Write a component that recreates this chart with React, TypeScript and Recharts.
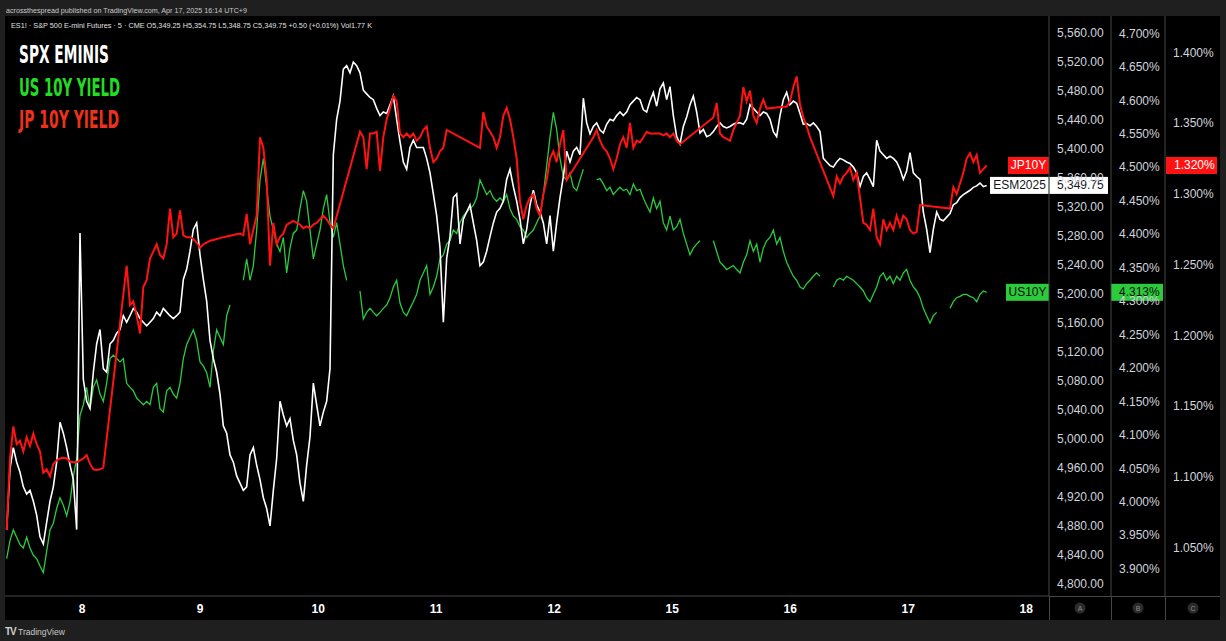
import { LineChart, Line, XAxis, YAxis, ReferenceLine } from 'recharts'

// one sample every 1/35.4 of a session, session 0 = Apr 8 (weekend removed)
const FIRST = -0.6966
const STEP = 1 / 35.4

const dayLabels = ['8', '9', '10', '11', '12', '15', '16', '17', '18']
const spxTicks = [4800, 4840, 4880, 4920, 4960, 5000, 5040, 5080, 5120, 5160, 5200, 5240, 5280, 5320, 5360, 5400, 5440, 5480, 5520, 5560]
const usTicks = [3.9, 3.95, 4.0, 4.05, 4.1, 4.15, 4.2, 4.25, 4.3, 4.35, 4.4, 4.45, 4.5, 4.55, 4.6, 4.65, 4.7]
const jpTicks = [1.05, 1.1, 1.15, 1.2, 1.25, 1.3, 1.35, 1.4]

// ES1! 5 min closes
const spx = [
  null, null,
  4875, 4959, 4988, 4968, 4954, 4934, 4924, 4929, 4914, 4895,
  4865, 4855, 4885, 4914, 4934, 4968, 5023, 5008, 4988, 4964,
  4944, 4875, 5284, 5082, 5052, 5042, 5092, 5131, 5151, 5097,
  5092, 5131, 5136, 5146, 5151, 5170, 5161, 5170, 5180, 5175,
  5166, 5161, 5156, 5161, 5166, 5175, 5170, 5180, 5175, 5170,
  5166, 5170, 5175, 5220, 5234, 5259, 5289, 5298, 5254, 5220,
  5190, 5136, 5111, 5092, 5062, 5018, 5008, 4978, 4968, 4949,
  4939, 4929, 4934, 4978, 4988, 4964, 4944, 4919, 4904, 4880,
  4929, 4973, 5052, 5033, 5018, 5028, 4998, 4978, 4939, 4914,
  4964, 5003, 5077, 5047, 5018, 5037, 5052, 5097, 5392, 5441,
  5466, 5510, 5515, 5505, 5520, 5515, 5505, 5481, 5476, 5471,
  5468, 5456, 5446, 5451, 5449, 5461, 5473, 5441, 5410, 5382,
  5372, 5402, 5412, 5402, 5402, 5402, 5387, 5367, 5338, 5308,
  5264, 5161, 5249, 5279, 5333, 5338, 5269, 5303, 5313, 5323,
  5298, 5274, 5239, 5244, 5259, 5279, 5298, 5313, 5318, 5328,
  5358, 5372, 5348, 5328, 5303, 5269, 5289, 5323, 5343, 5323,
  5313, 5298, 5269, 5308, 5259, 5298, 5333, 5362, 5397, 5382,
  5397, 5402, 5392, 5470, 5436, 5421, 5431, 5436, 5426, 5422,
  5434, 5441, 5439, 5446, 5451, 5446, 5451, 5461, 5466, 5471,
  5468, 5454, 5451, 5466, 5478, 5459, 5483, 5491, 5468, 5486,
  5446, 5417, 5407, 5431, 5444, 5461, 5473, 5451, 5422, 5427,
  5417, 5419, 5424, 5431, 5436, 5431, 5429, 5431, 5434, 5436,
  5436, 5434, 5441, 5461, 5456, 5451, 5446, 5451, 5449, 5441,
  5424, 5417, 5446, 5468, 5478, 5461, 5466, 5463, 5449, 5434,
  5435, 5432, 5436, 5431, 5424, 5387, 5382, 5377, 5375, 5382,
  5387, 5385, 5382, 5380, 5375, 5367, 5348, 5362, 5367, 5358,
  5348, 5412, 5397, 5392, 5387, 5390, 5387, 5382, 5372, 5358,
  5370, 5395, 5367, 5362, 5358, 5313, 5289, 5257, 5289, 5313,
  5303, 5301, 5306, 5311, 5323, 5326, 5333, 5337, 5340, 5343,
  5347, 5349, 5353, 5348, 5349.75,
]

// TVC:US10Y
const us10y = [
  null, null,
  3.915, 3.942, 3.958, 3.947, 3.936, 3.931, 3.947, 3.931, 3.920, 3.915,
  3.904, 3.894, 3.926, 3.958, 3.968, 3.990, 4.006, 3.995, 3.979, 4.000,
  4.038, 4.065, 4.129, 4.145, 4.171, 4.139, 4.171, 4.182, 4.161, 4.150,
  4.177, 4.214, 4.219, 4.214, 4.209, 4.214, 4.177, 4.171, 4.166, 4.155,
  4.150, 4.145, 4.150, 4.145, 4.171, 4.177, 4.139, 4.134, 4.166, 4.171,
  4.161, 4.155, 4.177, 4.214, 4.235, 4.246, 4.257, 4.241, 4.209, 4.203,
  4.193, 4.171, 4.225, 4.257, 4.246, 4.235, 4.278, 4.294, null, null,
  null, 4.331, 4.363, 4.331, 4.353, 4.406, 4.481, 4.513, 4.470, 4.427,
  4.406, 4.385, 4.374, 4.395, 4.342, 4.379, 4.401, 4.406, 4.438, 4.465,
  4.449, 4.406, 4.363, 4.385, 4.406, 4.438, 4.459, 4.417, 4.395, 4.417,
  4.385, 4.353, 4.331, null, null, null, 4.315, 4.273, 4.283, 4.289,
  4.283, 4.278, 4.283, 4.289, 4.294, 4.305, 4.321, 4.331, 4.297, 4.283,
  4.278, 4.289, 4.299, 4.310, 4.331, 4.342, 4.353, 4.310, 4.321, 4.337,
  4.363, 4.369, 4.385, 4.390, 4.406, 4.401, 4.417, 4.427, 4.433, 4.438,
  4.443, 4.454, 4.481, 4.470, 4.459, 4.465, 4.454, 4.449, 4.454, 4.449,
  4.459, 4.438, 4.427, 4.422, 4.411, 4.406, 4.395, 4.401, 4.406, 4.417,
  4.427, 4.459, 4.502, 4.545, 4.582, 4.556, 4.513, 4.486, 4.481, 4.491,
  4.470, 4.465, 4.481, 4.497, null, null, null, 4.481, 4.483, 4.475,
  4.465, 4.470, 4.459, 4.465, 4.470, 4.465, 4.467, 4.459, 4.475, 4.465,
  4.467, 4.454, 4.443, 4.433, 4.454, 4.438, 4.449, 4.417, 4.406, 4.427,
  4.406, 4.411, 4.422, 4.401, 4.385, 4.369, 4.379, 4.385, 4.390, null,
  null, null, 4.390, 4.374, 4.358, 4.353, 4.347, 4.350, 4.353, 4.347,
  4.342, 4.358, 4.369, 4.390, 4.374, 4.385, 4.358, 4.379, 4.390, 4.395,
  4.406, 4.385, 4.395, 4.374, 4.358, 4.347, 4.337, 4.331, 4.321, 4.318,
  4.326, 4.331, 4.337, 4.342, 4.337, null, null, null, 4.321, 4.331,
  4.334, 4.331, 4.337, 4.334, 4.331, 4.326, 4.321, 4.315, 4.305, 4.299,
  4.310, 4.321, 4.337, 4.342, 4.331, 4.337, 4.326, 4.337, 4.331, 4.342,
  4.347, 4.331, 4.321, 4.315, 4.305, 4.289, 4.278, 4.267, 4.278, 4.283,
  null, null, null, 4.289, 4.299, 4.305, 4.307, 4.310, 4.310, 4.307,
  4.305, 4.299, 4.310, 4.315, 4.313,
]

// TVC:JP10Y (gaps are bridged by a straight line)
const jp10y = [
  null, null,
  1.0625, 1.1130, 1.1357, 1.1231, 1.1256, 1.1180, 1.1281, 1.1218, 1.1306, 1.1231,
  1.1180, 1.1029, 1.1054, 1.1004, 1.1092, 1.1117, 1.1130, 1.1135, 1.1130, 1.1109,
  1.1104, 1.1104, 1.1117, 1.1130, 1.1155, 1.1092, 1.1054, 1.1049, 1.1054, 1.1066,
  null, null, null, null, null, null, 1.2492, 1.2214, 1.2240, 1.2139,
  1.2013, 1.2341, 1.2391, 1.2543, 1.2593, 1.2644, 1.2568, 1.2543, 1.2644, 1.2896,
  1.2694, 1.2719, 1.2883, 1.2707, 1.2694, 1.2694, 1.2681, 1.2656, 1.2618, 1.2644,
  1.2656, 1.2669, 1.2674, 1.2681, 1.2687, 1.2694, 1.2699, 1.2704, 1.2709, 1.2714,
  1.2719, 1.2707, 1.2858, 1.2644, 1.2744, 1.2845, 1.3400, 1.3325, 1.3098, 1.2492,
  1.2795, 1.2644, 1.2694, 1.2719, 1.2782, 1.2795, 1.2808, 1.2795, 1.2782, 1.2757,
  1.2770, 1.2757, 1.2782, 1.2795, 1.2820, 1.2845, 1.2820, 1.2782, 1.2757, null,
  null, null, null, null, null, null, 1.3438, 1.3400, 1.3174, 1.3426,
  1.3426, 1.3438, 1.3161, 1.3400, 1.3527, 1.3602, 1.3691, 1.3653, 1.3426, 1.3400,
  1.3426, 1.3400, 1.3426, 1.3375, 1.3400, 1.3451, 1.3476, 1.3325, 1.3224, 1.3249,
  1.3300, 1.3325, 1.3451, null, null, null, null, null, null, null,
  null, null, 1.3325, 1.3577, 1.3476, 1.3438, 1.3400, 1.3325, 1.3400, 1.3552,
  1.3607, 1.3527, 1.3400, 1.3249, 1.2946, 1.2820, 1.2921, 1.2972, 1.2997, 1.2896,
  1.2845, 1.2997, 1.3098, 1.3249, 1.3300, 1.3224, 1.3350, 1.3451, 1.3098, null,
  null, null, null, null, null, null, 1.3400, 1.3451, 1.3375, 1.3325,
  1.3300, 1.3249, 1.3174, 1.3249, 1.3350, 1.3400, 1.3325, 1.3501, 1.3325, 1.3375,
  1.3363, 1.3400, 1.3438, 1.3426, 1.3426, 1.3426, 1.3426, 1.3413, 1.3426, 1.3400,
  1.3426, 1.3375, 1.3350, null, null, null, null, null, null, null,
  null, null, 1.3539, 1.3640, 1.3426, 1.3400, 1.3388, 1.3375, 1.3451, 1.3501,
  1.3552, 1.3754, 1.3653, 1.3729, 1.3552, 1.3501, 1.3602, 1.3666, 1.3602, null,
  null, null, null, 1.3615, 1.3615, 1.3653, 1.3754, 1.3829, 1.3630, 1.3540,
  1.3476, 1.3400, null, null, null, null, null, null, 1.2984, 1.3123,
  1.3073, 1.3123, 1.3148, 1.3186, 1.3098, 1.3148, 1.2972, 1.2795, 1.2782, 1.2744,
  1.2896, 1.2694, 1.2644, 1.2820, 1.2744, 1.2795, 1.2744, 1.2845, 1.2770, 1.2845,
  1.2820, 1.2744, 1.2719, 1.2732, 1.2921, null, null, null, null, null,
  null, null, null, 1.2896, 1.3047, 1.2997, 1.3073, 1.3148, 1.3249, 1.3287,
  1.3224, 1.3274, 1.3148, 1.3174, 1.320,
]

const data = spx.map((v, i) => ({ t: FIRST + i * STEP, spx: v, us: us10y[i], jp: jp10y[i] }))

const lastSpx = spx[spx.length - 1] as number
const lastUs = us10y[us10y.length - 1] as number
const lastJp = jp10y[jp10y.length - 1] as number

const FONT = "'Liberation Sans', Arial, Helvetica, sans-serif"
const NARROW = "'Liberation Sans Narrow', 'DejaVu Sans Condensed', 'Liberation Sans', sans-serif"
const FRAME = '#474747'
const AXIS_TEXT = '#d1d4dc'
const GREEN = '#2ccb3c'
const RED = '#ff1212'

const fmtSpx = (v: number) => v.toLocaleString('en-US', { minimumFractionDigits: 2, maximumFractionDigits: 2 })
const fmtPct = (v: number) => v.toFixed(3) + '%'

function PriceTag(props: any) {
  const { viewBox, name, value, bg, fg, nameWidth, valueOffset, valueWidth, divider } = props
  if (!viewBox) return null
  const right = viewBox.x + viewBox.width
  const y = viewBox.y
  const h = 17
  return (
    <g>
      <rect x={right - nameWidth} y={y - h / 2} width={nameWidth} height={h} fill={bg} />
      <text x={right - nameWidth / 2} y={y + 4} textAnchor="middle" fill={fg} fontSize={12} fontFamily={FONT}>
        {name}
      </text>
      <rect x={right + valueOffset} y={y - h / 2} width={valueWidth} height={h} fill={bg} />
      <text x={right + valueOffset + 8} y={y + 4} fill={fg} fontSize={12} fontFamily={FONT}>
        {value}
      </text>
      {divider && <line x1={right} x2={right} y1={y - h / 2} y2={y + h / 2} stroke="#9a9a9a" />}
    </g>
  )
}

export default function App() {
  const axisTick = { fill: AXIS_TEXT, fontSize: 12, fontFamily: FONT }
  return (
    <div style={{ position: 'absolute', left: 0, top: 0, width: 1226, height: 641, background: '#1f1f1f', overflow: 'hidden' }}>
      <div style={{ position: 'absolute', left: 5, top: 16, width: 1215, height: 604, background: '#000' }} />
      <div style={{ position: 'absolute', left: 0, top: 0 }}>
        <LineChart width={1226} height={641} data={data} margin={{ top: 16, right: 6, bottom: 21, left: 5 }}>
          <XAxis
            dataKey="t"
            type="number"
            domain={[-0.6542, 8.1932]}
            allowDataOverflow
            ticks={dayLabels.map((_, i) => i)}
            tickFormatter={(v: number) => dayLabels[v]}
            interval={0}
            height={24}
            tickLine={false}
            axisLine={{ stroke: FRAME }}
            tick={{ fill: '#ffffff', fontSize: 12, fontWeight: 700, fontFamily: FONT }}
          />
          <YAxis
            yAxisId="A"
            orientation="right"
            width={62}
            domain={[4783.4, 5583.4]}
            allowDataOverflow
            ticks={spxTicks}
            interval={0}
            tickFormatter={fmtSpx}
            tickLine={false}
            axisLine={{ stroke: FRAME }}
            tick={axisTick}
          />
          <YAxis
            yAxisId="B"
            orientation="right"
            width={54}
            domain={[3.8592, 4.7259]}
            allowDataOverflow
            ticks={usTicks}
            interval={0}
            tickFormatter={fmtPct}
            tickLine={false}
            axisLine={{ stroke: FRAME }}
            tick={axisTick}
          />
          <YAxis
            yAxisId="C"
            orientation="right"
            width={55}
            domain={[1.0159, 1.4256]}
            allowDataOverflow
            ticks={jpTicks}
            interval={0}
            tickFormatter={fmtPct}
            tickLine={false}
            axisLine={{ stroke: FRAME }}
            tick={axisTick}
          />
          <Line yAxisId="B" dataKey="us" stroke={GREEN} strokeWidth={1.3} dot={false} isAnimationActive={false} />
          <Line yAxisId="A" dataKey="spx" stroke="#ffffff" strokeWidth={1.6} dot={false} isAnimationActive={false} />
          <Line yAxisId="C" dataKey="jp" stroke={RED} strokeWidth={2} dot={false} connectNulls isAnimationActive={false} />
          <ReferenceLine
            yAxisId="C"
            y={lastJp}
            stroke="none"
            label={<PriceTag name="JP10Y" value={fmtPct(lastJp)} bg={RED} fg="#ffffff" nameWidth={41} valueOffset={117} valueWidth={51} />}
          />
          <ReferenceLine
            yAxisId="A"
            y={lastSpx}
            stroke="none"
            label={<PriceTag name="ESM2025" value={fmtSpx(lastSpx)} bg="#ffffff" fg="#131722" nameWidth={59} valueOffset={0} valueWidth={59} divider />}
          />
          <ReferenceLine
            yAxisId="B"
            y={lastUs}
            stroke="none"
            label={<PriceTag name="US10Y" value={fmtPct(lastUs)} bg={GREEN} fg="#0b0b0b" nameWidth={43} valueOffset={62} valueWidth={52} />}
          />
        </LineChart>
      </div>
      <svg width={1226} height={641} style={{ position: 'absolute', left: 0, top: 0, pointerEvents: 'none' }}>
        <text x={6} y={13} fill="#c9c9c9" fontSize={8} fontFamily={FONT} textLength={241} lengthAdjust="spacingAndGlyphs">
          acrossthespread published on TradingView.com, Apr 17, 2025 16:14 UTC+9
        </text>
        <text x={11} y={28} fill="#e0e0e0" fontSize={8} fontFamily={FONT} textLength={361} lengthAdjust="spacingAndGlyphs">
          ES1! · S&amp;P 500 E-mini Futures · 5 · CME  O5,349.25  H5,354.75  L5,348.75  C5,349.75  +0.50 (+0.01%)  Vol1.77 K
        </text>
        <text x={19} y={62.5} fill="#ffffff" fontSize={24} fontWeight={700} fontFamily={NARROW} textLength={90} lengthAdjust="spacingAndGlyphs">
          SPX EMINIS
        </text>
        <text x={19} y={95.5} fill="#22dd22" fontSize={24} fontWeight={700} fontFamily={NARROW} textLength={101} lengthAdjust="spacingAndGlyphs">
          US 10Y YIELD
        </text>
        <text x={19} y={128} fill="#ec321c" fontSize={24} fontWeight={700} fontFamily={NARROW} textLength={100} lengthAdjust="spacingAndGlyphs">
          JP 10Y YIELD
        </text>
        <g stroke={FRAME}>
          <line x1={1049} x2={1220} y1={596.5} y2={596.5} />
          <line x1={1049.5} x2={1049.5} y1={596} y2={620} />
          <line x1={1111.5} x2={1111.5} y1={596} y2={620} />
          <line x1={1165.5} x2={1165.5} y1={596} y2={620} />
        </g>
        {[
          ['A', 1080],
          ['B', 1138],
          ['C', 1193],
        ].map(([l, x]) => (
          <g key={l as string}>
            <circle cx={x as number} cy={608} r={5.5} fill="#2b2b2b" />
            <text x={x as number} y={610.5} textAnchor="middle" fill="#8a8a8a" fontSize={7} fontFamily={FONT}>
              {l}
            </text>
          </g>
        ))}
        <text x={5} y={635} fill="#d0d0d0" fontSize={10} fontWeight={700} fontFamily={FONT} letterSpacing={-1}>
          TV
        </text>
        <text x={18} y={634.5} fill="#c9c9c9" fontSize={8.5} fontFamily={FONT}>
          TradingView
        </text>
      </svg>
    </div>
  )
}
